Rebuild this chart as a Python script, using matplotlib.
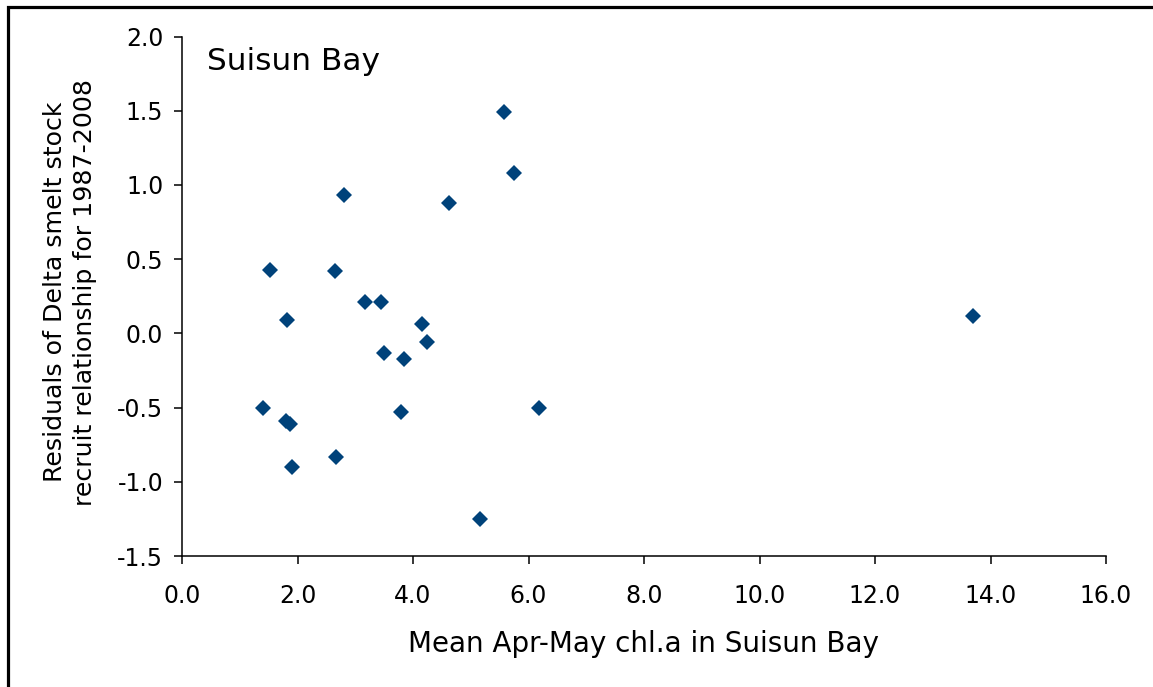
import matplotlib
matplotlib.use('Agg')
import matplotlib.pyplot as plt
from matplotlib.patches import Rectangle

W, H = 1153, 687
BLUE = '#00427A'

# mean Apr-May chl.a in Suisun Bay vs stock-recruit residuals, 1987-2008
chla = [5.58, 5.75, 2.81, 4.62, 1.52, 2.65, 3.17, 3.45, 1.81, 4.16, 4.25,
        3.49, 3.84, 1.40, 3.79, 6.19, 1.80, 1.87, 2.67, 1.90, 5.16, 13.70]
resid = [1.49, 1.08, 0.93, 0.88, 0.43, 0.42, 0.21, 0.21, 0.09, 0.06, -0.06,
         -0.13, -0.17, -0.50, -0.53, -0.50, -0.59, -0.61, -0.83, -0.90, -1.25, 0.12]

xticks = [0, 2, 4, 6, 8, 10, 12, 14, 16]
yticks = [-1.5, -1.0, -0.5, 0.0, 0.5, 1.0, 1.5, 2.0]

fig = plt.figure(figsize=(W / 100, H / 100), dpi=100, facecolor='white')
ax = fig.add_axes([182 / W, 1 - 556 / H, (1106 - 182) / W, (556 - 36.5) / H])

ax.plot(chla, resid, 'D', color=BLUE, markersize=8, markeredgewidth=0, clip_on=False)

ax.set_xlim(0, 16)
ax.set_ylim(-1.5, 2.0)
ax.set_xticks(xticks)
ax.set_yticks(yticks)
ax.set_xticklabels([f'{v:.1f}' for v in xticks])
ax.set_yticklabels([f'{v:.1f}' for v in yticks])
ax.tick_params(direction='out', length=5.5, width=1.1, labelsize=17)
ax.tick_params(axis='x', pad=15)
ax.tick_params(axis='y', pad=8)
for s in ['top', 'right']:
    ax.spines[s].set_visible(False)
for s in ['left', 'bottom']:
    ax.spines[s].set_linewidth(1.1)

fig.text(207 / W, 1 - 70 / H, 'Suisun Bay', fontsize=22.5, ha='left', va='baseline')
fig.text(643 / W, 1 - 652 / H, 'Mean Apr-May chl.a in Suisun Bay', fontsize=20,
         ha='center', va='baseline')
fig.text(70 / W, 1 - 292 / H,
         'Residuals of Delta smelt stock\nrecruit relationship for 1987-2008',
         fontsize=18.2, rotation=90, ha='center', va='center', multialignment='center',
         linespacing=1.3)

# frame round the figure (right and bottom edges fall off the canvas)
fig.patches.append(Rectangle((7.5 / W, -0.1), 1.2, 1 - 6.5 / H + 0.1,
                             transform=fig.transFigure, fill=False,
                             edgecolor='black', linewidth=2.3))

fig.savefig('out.png', dpi=100, facecolor='white')
